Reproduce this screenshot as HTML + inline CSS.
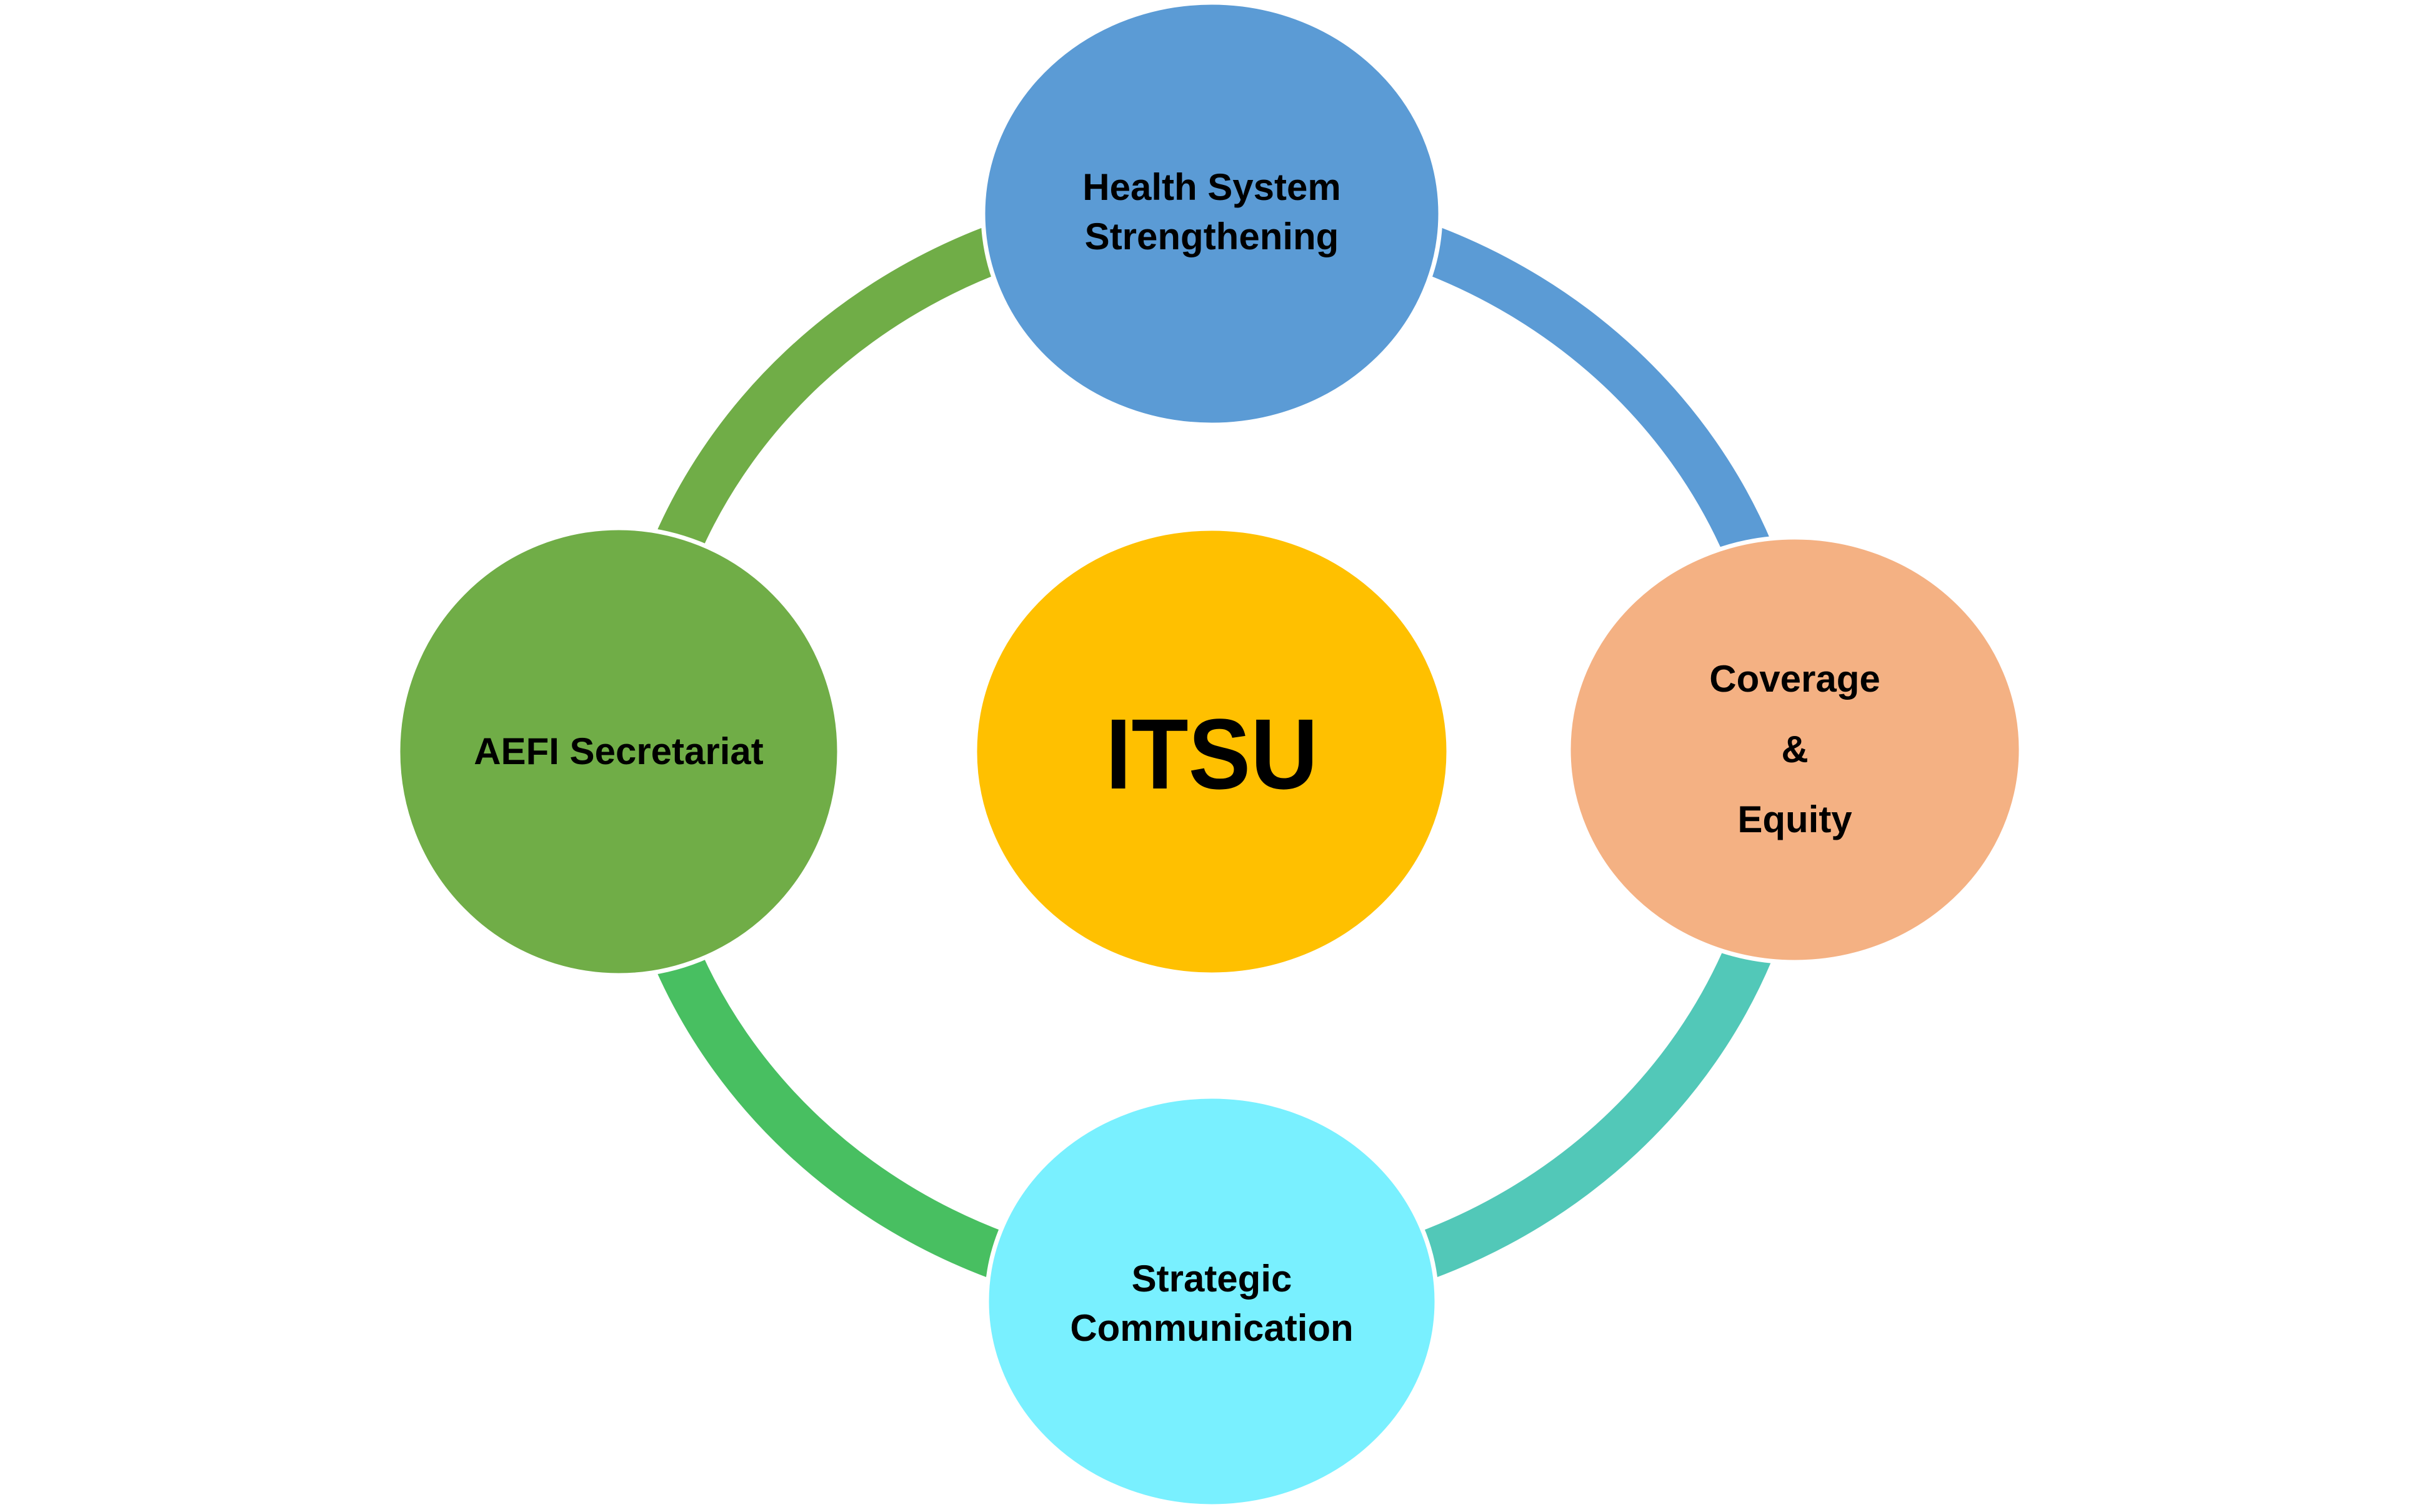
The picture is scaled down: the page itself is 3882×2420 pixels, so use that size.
<!DOCTYPE html>
<html><head><meta charset="utf-8"><style>html,body{margin:0;padding:0;background:#fff}svg{display:block}</style></head>
<body>
<svg width="3882" height="2420" viewBox="0 0 3882 2420" xmlns="http://www.w3.org/2000/svg">
<g fill="none" stroke-width="78">
<path d="M1939 335 A925 868 0 0 1 2864 1203" stroke="#5B9BD5"/>
<path d="M2864 1203 A925 868 0 0 1 1939 2071" stroke="#52C8B8"/>
<path d="M1939 2071 A925 868 0 0 1 1014 1203" stroke="#48BF61"/>
<path d="M1014 1203 A925 868 0 0 1 1939 335" stroke="#70AD47"/>
</g>
<g stroke="#fff" stroke-width="7">
<ellipse cx="1939" cy="342" rx="366" ry="338" fill="#5B9BD5"/>
<ellipse cx="2872" cy="1200" rx="362" ry="340" fill="#F4B183"/>
<ellipse cx="990" cy="1203" rx="353" ry="358" fill="#70AD47"/>
<ellipse cx="1939" cy="2083" rx="360" ry="328" fill="#79F0FF"/>
<ellipse cx="1939" cy="1203" rx="379" ry="357" fill="#FFC000"/>
</g>
<g font-family="Liberation Sans, sans-serif" font-weight="bold" fill="#000" text-anchor="middle" font-size="60">
<text x="1939" y="320">Health System</text>
<text x="1939" y="399">Strengthening</text>
<text x="2872" y="1107">Coverage</text>
<text x="2872" y="1220">&amp;</text>
<text x="2872" y="1332">Equity</text>
<text x="990" y="1223">AEFI Secretariat</text>
<text x="1939" y="2067">Strategic</text>
<text x="1939" y="2146">Communication</text>
<text x="1939" y="1262" font-size="160" textLength="340" lengthAdjust="spacingAndGlyphs">ITSU</text>
</g>
</svg>
</body></html>
